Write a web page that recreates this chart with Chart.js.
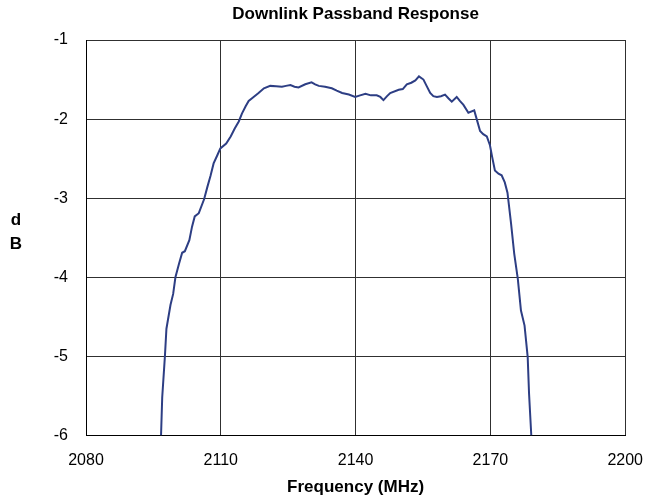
<!DOCTYPE html>
<html>
<head>
<meta charset="utf-8">
<title>Downlink Passband Response</title>
<script src="https://cdn.jsdelivr.net/npm/chart.js@4.4.1/dist/chart.umd.min.js"></script>
<style>
    html, body { margin: 0; padding: 0; background: #fff; }
    #wrap { width: 658px; height: 504px; }
</style>
</head>
<body>
<div id="wrap"><canvas id="chart" width="658" height="504"></canvas></div>
<script>
// frequency in MHz, response in dB
var freq = [
    2096.7, 2096.96, 2097.56, 2097.9, 2098.8, 2099.4, 2099.9, 2100.7, 2101.4, 2102.0,
    2103.0, 2103.6, 2104.2, 2105.1, 2106.3, 2107.0, 2107.7, 2108.4, 2109.2, 2109.9,
    2111.2, 2112.2, 2113.1, 2114.0, 2114.7, 2115.5, 2116.2, 2117.3, 2118.4, 2119.6,
    2121.0, 2122.3, 2123.6, 2124.5, 2125.5, 2126.4, 2127.3, 2128.8, 2130.2, 2131.0,
    2131.8, 2133.2, 2134.7, 2135.8, 2137.0, 2138.5, 2139.9, 2141.0, 2142.2, 2143.4,
    2144.7, 2145.5, 2146.2, 2147.0, 2147.7, 2149.6, 2150.5, 2151.4, 2152.4, 2153.3,
    2154.1, 2155.1, 2155.8, 2156.6, 2157.3, 2158.1, 2159.0, 2159.9, 2160.7, 2161.4,
    2162.5, 2163.2, 2164.0, 2165.1, 2166.4, 2167.0, 2167.7, 2168.4, 2169.2, 2169.9,
    2170.4, 2171.0, 2171.8, 2172.5, 2173.2, 2173.8, 2174.6, 2175.3, 2176.1, 2176.8,
    2177.6, 2178.3, 2178.6, 2179.1
];
var dB = [
    -6.0, -5.52, -5.0, -4.65, -4.35, -4.21, -4.0, -3.83, -3.69, -3.67,
    -3.53, -3.36, -3.23, -3.19, -3.01, -2.86, -2.72, -2.56, -2.46, -2.37,
    -2.31, -2.22, -2.12, -2.03, -1.93, -1.84, -1.77, -1.72, -1.67, -1.61,
    -1.58, -1.585, -1.59, -1.58, -1.57, -1.59, -1.60, -1.56, -1.535, -1.56,
    -1.58, -1.59, -1.61, -1.64, -1.67, -1.69, -1.72, -1.70, -1.68, -1.70,
    -1.70, -1.72, -1.76, -1.71, -1.67, -1.63, -1.62, -1.56, -1.54, -1.51,
    -1.46, -1.50, -1.58, -1.67, -1.71, -1.72, -1.71, -1.69, -1.74, -1.78,
    -1.72, -1.77, -1.82, -1.92, -1.89, -2.01, -2.15, -2.19, -2.22, -2.33,
    -2.48, -2.65, -2.69, -2.71, -2.80, -2.93, -3.32, -3.70, -4.02, -4.42,
    -4.61, -5.01, -5.47, -6.0
];
var xTicks = [2080, 2110, 2140, 2170, 2200];
var yTicks = [-6, -5, -4, -3, -2, -1];

var points = freq.map(function (f, i) { return { x: f, y: dB[i] }; });

var tickFont = { family: "'Liberation Sans', Arial, sans-serif", size: 16 };
var boldFont = { family: "'Liberation Sans', Arial, sans-serif", size: 17, weight: 'bold' };

// upright "d" / "B" label left of the y axis
var yLabel = {
    id: 'yLabel',
    afterDraw: function (chart) {
        var c = chart.ctx;
        c.save();
        c.font = 'bold 17px "Liberation Sans", Arial, sans-serif';
        c.fillStyle = '#000';
        c.textAlign = 'center';
        c.textBaseline = 'middle';
        c.fillText('d', 16, 220);
        c.fillText('B', 16, 244);
        c.restore();
    }
};

var ctx = document.getElementById('chart').getContext('2d');
var chart = new Chart(ctx, {
    type: 'line',
    data: {
        datasets: [{
            data: points,
            borderColor: '#2d3e84',
            borderWidth: 2,
            pointRadius: 0,
            tension: 0,
            fill: false
        }]
    },
    options: {
        responsive: false,
        animation: false,
        devicePixelRatio: 1,
        layout: { padding: { left: 0, right: 31, top: 0, bottom: 0 } },
        plugins: {
            legend: { display: false },
            tooltip: { enabled: false },
            title: {
                display: true,
                text: 'Downlink Passband Response',
                fullSize: false,
                color: '#000',
                font: boldFont,
                padding: { top: 4, bottom: 15.6 }
            }
        },
        scales: {
            x: {
                type: 'linear',
                min: 2080,
                max: 2200,
                afterBuildTicks: function (axis) {
                    axis.ticks = xTicks.map(function (v) { return { value: v }; });
                },
                afterFit: function (axis) { axis.height = 68.5; },
                grid: { color: '#303030', lineWidth: 1, drawTicks: false },
                border: { color: '#000', width: 1 },
                ticks: {
                    color: '#000',
                    font: tickFont,
                    padding: 15,
                    maxRotation: 0,
                    callback: function (v) { return String(v); }
                },
                title: {
                    display: true,
                    text: 'Frequency (MHz)',
                    color: '#000',
                    font: boldFont,
                    padding: { top: 7.9, bottom: 6.8 }
                }
            },
            y: {
                min: -6,
                max: -1,
                afterBuildTicks: function (axis) {
                    axis.ticks = yTicks.map(function (v) { return { value: v }; });
                },
                afterFit: function (axis) { axis.width = 86; },
                grid: { color: '#303030', lineWidth: 1, drawTicks: false },
                border: { color: '#000', width: 1 },
                ticks: {
                    color: '#000',
                    font: tickFont,
                    padding: 18,
                    callback: function (v) { return String(v); }
                }
            }
        }
    },
    plugins: [yLabel]
});
</script>
</body>
</html>
